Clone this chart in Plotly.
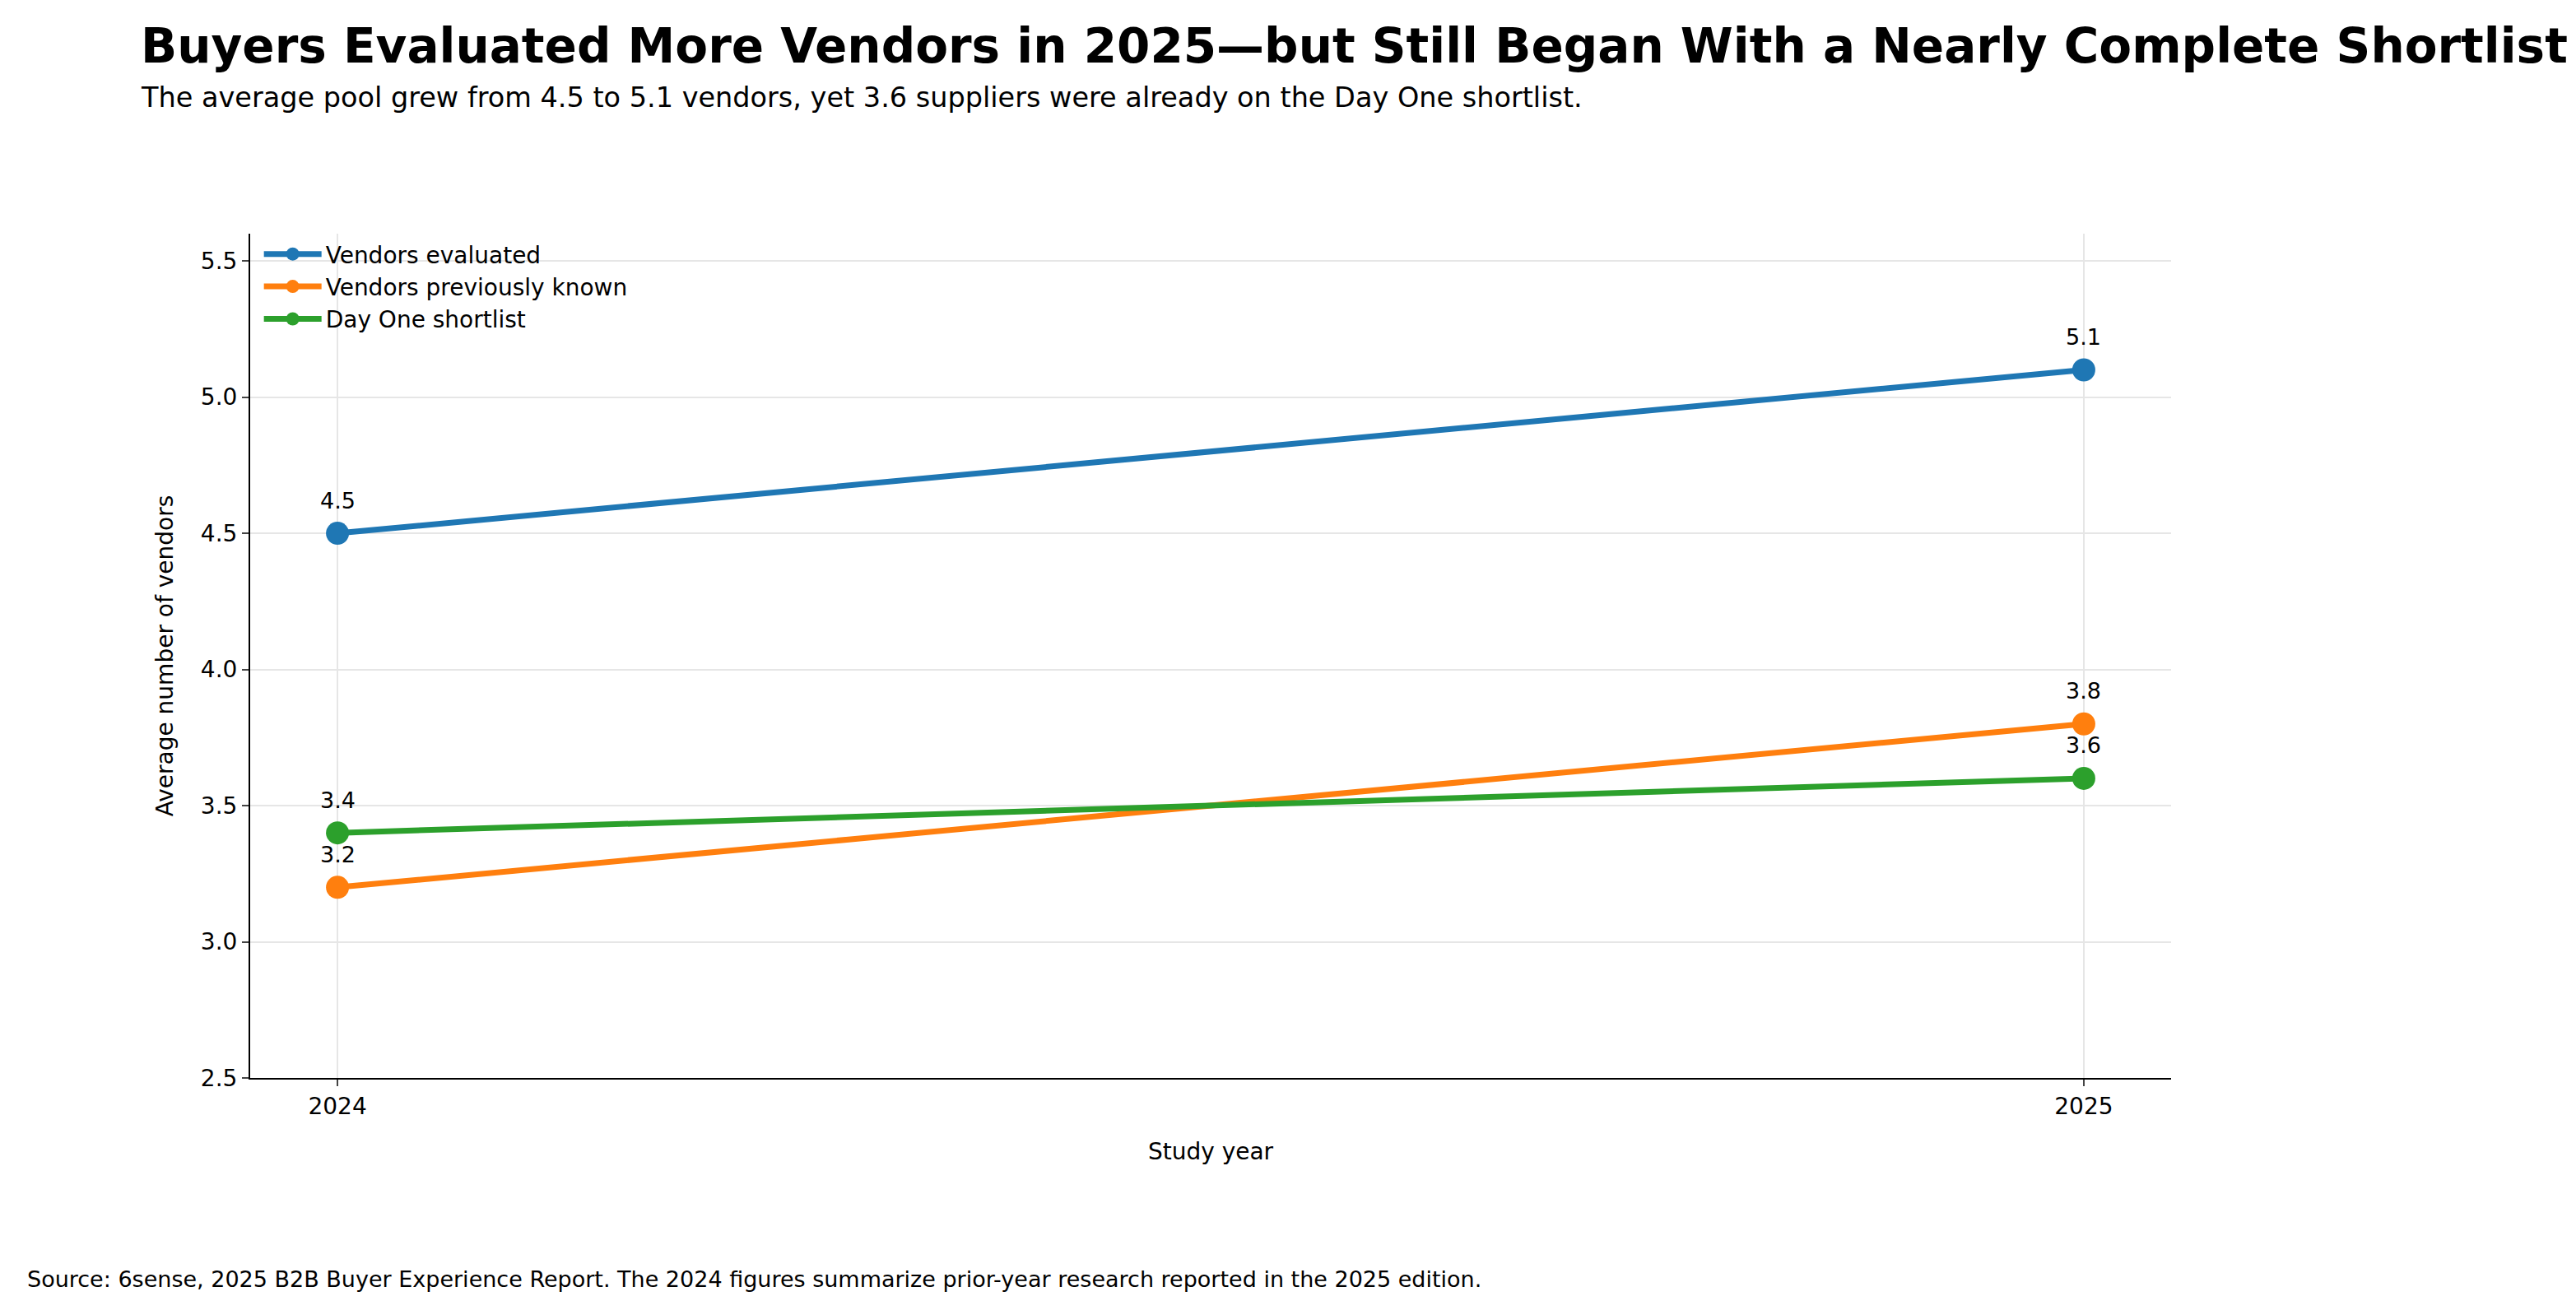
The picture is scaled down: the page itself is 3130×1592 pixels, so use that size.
import plotly.graph_objects as go

years = [2024, 2025]
series_names = ["Vendors evaluated", "Vendors previously known", "Day One shortlist"]
series_values = [[4.5, 5.1], [3.2, 3.8], [3.4, 3.6]]
colors = ["#1f77b4", "#ff7f0e", "#2ca02c"]
y_ticks = [2.5, 3.0, 3.5, 4.0, 4.5, 5.0, 5.5]

fig = go.Figure()
for name, vals, c in zip(series_names, series_values, colors):
    fig.add_trace(go.Scatter(
        x=years, y=vals, name=name, mode="lines+markers",
        line=dict(color=c, width=7), marker=dict(color=c, size=28),
    ))
    for x, v in zip(years, vals):
        fig.add_annotation(x=x, y=v, text=f"{v:.1f}", showarrow=False,
                           yshift=40, font=dict(size=27, color="black"))

axis_font = dict(family="DejaVu Sans", size=28, color="black")
fig.update_layout(
    width=3130, height=1592,
    paper_bgcolor="white", plot_bgcolor="white",
    font=dict(family="DejaVu Sans", color="black"),
    margin=dict(l=296, r=500, t=276, b=290),
    showlegend=True,
    legend=dict(x=0.005, y=1.0, xanchor="left", yanchor="top",
                font=dict(size=28), bgcolor="rgba(0,0,0,0)", itemwidth=70),
    xaxis=dict(range=[2023.95, 2025.05], tickvals=years, ticktext=["2024", "2025"],
               showgrid=True, gridcolor="#e6e6e6", gridwidth=2,
               showline=True, linecolor="black", linewidth=2, ticks="outside",
               ticklen=8, tickwidth=2, tickfont=axis_font, zeroline=False,
               title=dict(text="Study year", font=axis_font, standoff=30)),
    yaxis=dict(range=[2.5, 5.6], tickvals=y_ticks, ticktext=[f"{t:.1f}" for t in y_ticks],
               showgrid=True, gridcolor="#e6e6e6", gridwidth=2,
               showline=True, linecolor="black", linewidth=2, ticks="outside",
               ticklen=8, tickwidth=2, tickfont=axis_font, zeroline=False,
               title=dict(text="Average number of vendors", font=axis_font, standoff=25)),
)

fig.add_annotation(xref="paper", yref="paper", x=-0.058, y=1.0, yshift=228,
                   xanchor="left", yanchor="middle", showarrow=False,
                   text="<b>Buyers Evaluated More Vendors in 2025—but Still Began With a Nearly Complete Shortlist</b>",
                   font=dict(size=58, color="black"))
fig.add_annotation(xref="paper", yref="paper", x=-0.058, y=1.0, yshift=166,
                   xanchor="left", yanchor="middle", showarrow=False,
                   text="The average pool grew from 4.5 to 5.1 vendors, yet 3.6 suppliers were already on the Day One shortlist.",
                   font=dict(size=33.5, color="black"))
fig.add_annotation(xref="paper", yref="paper", x=-0.117, y=0, yshift=-244,
                   xanchor="left", yanchor="middle", showarrow=False,
                   text="Source: 6sense, 2025 B2B Buyer Experience Report. The 2024 figures summarize prior-year research reported in the 2025 edition.",
                   font=dict(size=27, color="black"))

fig.write_html("out.html")
